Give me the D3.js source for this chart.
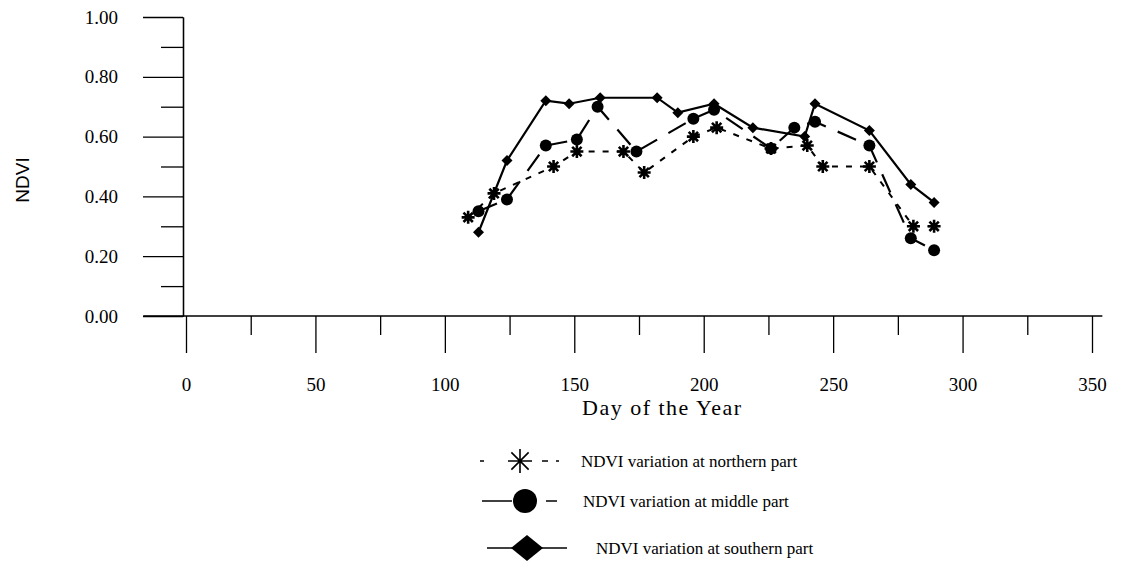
<!DOCTYPE html>
<html><head><meta charset="utf-8">
<script src="https://cdn.jsdelivr.net/npm/d3@7"></script>
<style>body{margin:0;background:#fff}svg{display:block}</style>
</head><body>
<svg id="c" width="1121" height="565"></svg>
<script>
// ---- data ----
const northDays = [109,119,142,151,169,177,196,205,226,240,246,264,281,289];
const northNDVI = [0.33,0.41,0.50,0.55,0.55,0.48,0.60,0.63,0.56,0.57,0.50,0.50,0.30,0.30];
const middleDays = [113,124,139,151,159,174,196,204,226,235,243,264,280,289];
const middleNDVI = [0.35,0.39,0.57,0.59,0.70,0.55,0.66,0.69,0.56,0.63,0.65,0.57,0.26,0.22];
const southDays = [113,124,139,148,160,182,190,204,219,239,243,264,280,289];
const southNDVI = [0.28,0.52,0.72,0.71,0.73,0.73,0.68,0.71,0.63,0.60,0.71,0.62,0.44,0.38];
const xMajorTicks = [0,50,100,150,200,250,300,350];
const xMinorTicks = [25,75,125,175,225,275,325];
const yMajorTicks = [0,0.2,0.4,0.6,0.8,1.0];
const yMinorTicks = [0.1,0.3,0.5,0.7,0.9];
const seriesNames = ["NDVI variation at northern part","NDVI variation at middle part","NDVI variation at southern part"];
const xTitle = "Day of the Year";
const yTitle = "NDVI";

const serif = "'Liberation Serif','Times New Roman',serif";
const sans = "'Liberation Sans',Arial,sans-serif";
const svg = d3.select("#c");
const x = d3.scaleLinear().domain([0,350]).range([186,1092]);
const y = d3.scaleLinear().domain([0,1]).range([316,17]);
const axisX0 = 183;

// y axis
const gy = svg.append("g").attr("transform",`translate(${axisX0},0)`);
gy.call(d3.axisLeft(y).tickValues(yMajorTicks).tickSize(40).tickSizeOuter(0).tickPadding(25).tickFormat(d3.format(".2f")));
gy.append("g").call(d3.axisLeft(y).tickValues(yMinorTicks).tickSize(22).tickSizeOuter(0).tickFormat(""));
gy.selectAll("path.domain").attr("stroke","#000").attr("stroke-width",1.3);
gy.selectAll("line").attr("stroke","#000").attr("stroke-width",1.3);
gy.selectAll("text").style("font-family",serif).style("font-size","19px").attr("fill","#000");

// x axis
const gx = svg.append("g").attr("transform",`translate(0,${y(0)})`);
gx.call(d3.axisBottom(x).tickValues(xMajorTicks).tickSize(37).tickSizeOuter(0));
gx.append("g").call(d3.axisBottom(x).tickValues(xMinorTicks).tickSize(19).tickSizeOuter(0).tickFormat(""));
gx.selectAll("path.domain").remove();
gx.append("line").attr("x1",x(-16.5)).attr("x2",x(354)).attr("y1",0).attr("y2",0).attr("stroke","#000").attr("stroke-width",1.3);
gx.selectAll("line").attr("stroke","#000").attr("stroke-width",1.3);
gx.selectAll("text").style("font-family",serif).style("font-size","19px").attr("fill","#000").attr("y",75).attr("dy",0);

svg.append("text").attr("x",x(184)).attr("y",415).attr("text-anchor","middle")
  .style("font-family",serif).style("font-size","22px").attr("letter-spacing",1.5).text(xTitle);
svg.append("text").attr("transform",`translate(29,${y(0.455)}) rotate(-90)`).attr("text-anchor","middle")
  .style("font-family",sans).style("font-size","19px").text(yTitle);

// series
function zip(a,b){return a.map((d,i)=>({d,v:b[i]}));}
const line = d3.line().x(p=>x(p.d)).y(p=>y(p.v));
const north = zip(northDays,northNDVI), middle = zip(middleDays,middleNDVI), south = zip(southDays,southNDVI);

svg.append("path").datum(north).attr("d",line).attr("fill","none").attr("stroke","#000").attr("stroke-width",2).attr("stroke-dasharray","6,8");
svg.append("path").datum(middle).attr("d",line).attr("fill","none").attr("stroke","#000").attr("stroke-width",2.2).attr("stroke-dasharray","20,13");
svg.append("path").datum(south).attr("d",line).attr("fill","none").attr("stroke","#000").attr("stroke-width",2.2);

function starPath(cx,cy,r){
  const k=r*0.72;
  return `M${cx-r},${cy}L${cx+r},${cy}M${cx},${cy-r}L${cx},${cy+r}M${cx-k},${cy-k}L${cx+k},${cy+k}M${cx-k},${cy+k}L${cx+k},${cy-k}`;
}
function diamondPath(cx,cy,w,h){return `M${cx},${cy-h}L${cx+w},${cy}L${cx},${cy+h}L${cx-w},${cy}Z`;}

svg.append("g").selectAll("path").data(north).join("path")
  .attr("d",p=>starPath(x(p.d),y(p.v),6.5)).attr("stroke","#000").attr("stroke-width",2.6);
svg.append("g").selectAll("circle").data(middle).join("circle")
  .attr("cx",p=>x(p.d)).attr("cy",p=>y(p.v)).attr("r",6).attr("fill","#000");
svg.append("g").selectAll("path").data(south).join("path")
  .attr("d",p=>diamondPath(x(p.d),y(p.v),5.5,5.5)).attr("fill","#000");

// legend
const legRows = [461,501,548];
const lg = svg.append("g");
// row 1
lg.append("line").attr("x1",480).attr("x2",484).attr("y1",legRows[0]).attr("y2",legRows[0]).attr("stroke","#000").attr("stroke-width",1.5);
lg.append("path").attr("d",starPath(520,legRows[0],12)).attr("stroke","#000").attr("stroke-width",1.6);
lg.append("line").attr("x1",542).attr("x2",548).attr("y1",legRows[0]).attr("y2",legRows[0]).attr("stroke","#000").attr("stroke-width",1.5);
lg.append("line").attr("x1",556).attr("x2",559).attr("y1",legRows[0]).attr("y2",legRows[0]).attr("stroke","#000").attr("stroke-width",1.5);
// row 2
lg.append("line").attr("x1",482).attr("x2",512).attr("y1",legRows[1]).attr("y2",legRows[1]).attr("stroke","#000").attr("stroke-width",1.5);
lg.append("circle").attr("cx",525).attr("cy",legRows[1]).attr("r",12).attr("fill","#000");
lg.append("line").attr("x1",546).attr("x2",557).attr("y1",legRows[1]).attr("y2",legRows[1]).attr("stroke","#000").attr("stroke-width",1.5);
// row 3
lg.append("line").attr("x1",487).attr("x2",567).attr("y1",legRows[2]).attr("y2",legRows[2]).attr("stroke","#000").attr("stroke-width",1.5);
lg.append("path").attr("d",diamondPath(527,legRows[2],16,13)).attr("fill","#000");

const legX = [581,583,596];
lg.selectAll("text").data(seriesNames).join("text")
  .attr("x",(d,i)=>legX[i]).attr("y",(d,i)=>legRows[i]+6)
  .style("font-family",serif).style("font-size","17px").text(d=>d);
</script>
</body></html>
